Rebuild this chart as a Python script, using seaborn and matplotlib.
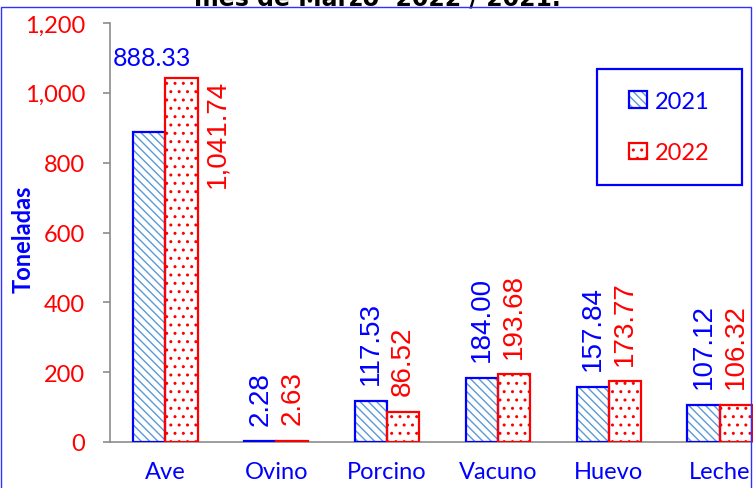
import matplotlib
matplotlib.use('Agg')
import matplotlib.pyplot as plt
import pandas as pd
import seaborn as sns
from matplotlib.patches import Patch, Rectangle
from matplotlib.ticker import FuncFormatter

productos = ['Ave', 'Ovino', 'Porcino', 'Vacuno', 'Huevo', 'Leche']
toneladas_2021 = [888.33, 2.28, 117.53, 184.00, 157.84, 107.12]
toneladas_2022 = [1041.74, 2.63, 86.52, 193.68, 173.77, 106.32]
anios = ['2021', '2022']
titulo = 'mes de Marzo  2022 / 2021.'

OUTPUT_FILEPATH = 'out.png'

# colores: borde, trama, texto
borde = {'2021': '#0000FF', '2022': '#FF0000'}
trama = {'2021': '#5B9BD5', '2022': '#FF0000'}
hatch = {'2021': '\\\\\\\\', '2022': '..'}

sns.set_style('white')
plt.rcParams['font.family'] = ['Lato', 'DejaVu Sans']
plt.rcParams['hatch.linewidth'] = 1.0


def build_df() -> pd.DataFrame:
    df = pd.DataFrame({'Producto': productos, '2021': toneladas_2021, '2022': toneladas_2022})
    df = df.melt(id_vars='Producto', var_name='Año', value_name='Toneladas')
    return df


def main():
    df = build_df()

    fig = plt.figure(figsize=(7.53, 4.89), dpi=100)
    # el eje se sale por la derecha como en la imagen original
    ax = fig.add_axes([110 / 753, 46 / 489, 665 / 753, 419 / 489])

    sns.barplot(data=df, x='Producto', y='Toneladas', hue='Año', hue_order=anios,
                palette=borde, width=0.58, gap=0, errorbar=None, legend=False, ax=ax)

    for anio, container in zip(anios, ax.containers):
        for bar, valor in zip(container, container.datavalues):
            bar.set_facecolor('white')
            bar.set_edgecolor(trama[anio])
            bar.set_hatch(hatch[anio])
            bar.set_linewidth(0)
            ax.add_patch(Rectangle(bar.get_xy(), bar.get_width(), bar.get_height(),
                                   fill=False, edgecolor=borde[anio], linewidth=1.6, zorder=3))
            texto = f'{valor:,.2f}'
            cx = bar.get_x() + bar.get_width() / 2
            if anio == '2021' and valor == toneladas_2021[0]:
                ax.annotate(texto, (cx, valor), xytext=(2, 48), textcoords='offset points',
                            ha='center', va='baseline', color=borde[anio], fontsize=18)
            elif anio == '2022' and valor == toneladas_2022[0]:
                ax.annotate(texto, (bar.get_x() + bar.get_width(), valor), xytext=(14, 0),
                            textcoords='offset points', ha='center', va='top', rotation=90,
                            color=borde[anio], fontsize=20, fontfamily='Liberation Sans')
            else:
                ax.annotate(texto, (cx, valor), xytext=(0, 12), textcoords='offset points',
                            ha='center', va='bottom', rotation=90,
                            color=borde[anio], fontsize=20, fontfamily='Liberation Sans')

    ax.set_ylim(0, 1200)
    ax.set_xlim(-0.5, len(productos) - 0.5)
    ax.set_yticks(range(0, 1201, 200))
    ax.yaxis.set_major_formatter(FuncFormatter(lambda v, p: f'{v:,.0f}'))
    ax.tick_params(axis='y', colors='#8C8C8C', labelcolor='#FF0000', labelsize=17,
                   length=5, width=1.2, pad=13, left=True)
    ax.tick_params(axis='x', length=0, labelcolor='#0000FF', labelsize=17, pad=14)

    sns.despine(ax=ax)
    for lado in ['left', 'bottom']:
        ax.spines[lado].set_color('#8C8C8C')
        ax.spines[lado].set_linewidth(1.2)

    ax.set_xlabel('')
    ax.set_ylabel('Toneladas', color='#0000FF', fontsize=17, fontweight='bold')
    ax.yaxis.set_label_coords(-0.114, 0.487)

    # leyenda con recuadro azul aparte
    handles = []
    for anio in anios:
        handles.append((Patch(facecolor='white', edgecolor=trama[anio], hatch=hatch[anio], linewidth=0),
                        Patch(fill=False, edgecolor=borde[anio], linewidth=1.6)))
    fig.legend(handles, anios, loc='center', bbox_to_anchor=(669.5 / 753, 1 - 128 / 489),
               frameon=False, fontsize=17, labelcolor=[borde[a] for a in anios],
               handlelength=0.75, handleheight=0.7, handletextpad=0.35, labelspacing=1.3)
    fig.patches.append(Rectangle((597 / 753, 1 - 186 / 489), 145 / 753, 116 / 489,
                                 transform=fig.transFigure, fill=False,
                                 edgecolor='#0000FF', linewidth=1.6))

    # marco del gráfico
    fig.patches.append(Rectangle((1 / 753, -0.05), 750 / 753, 1.05 - 8 / 489,
                                 transform=fig.transFigure, fill=False,
                                 edgecolor='#3030FF', linewidth=1.0, zorder=5))

    # título, cortado arriba como en el original
    fig.text(377 / 753, 1 - 5 / 489, titulo, ha='center', va='baseline',
             fontsize=17, fontweight='bold', family='DejaVu Sans', color='black')

    fig.savefig(OUTPUT_FILEPATH, dpi=100)


if __name__ == '__main__':
    main()
